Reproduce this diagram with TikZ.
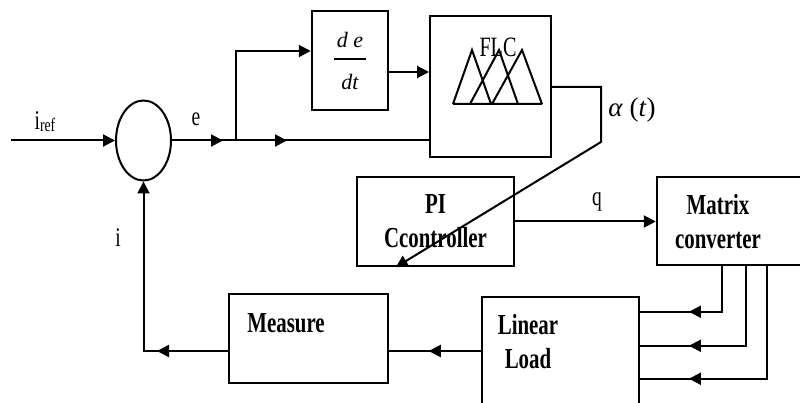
\documentclass[tikz,border=0pt]{standalone}
\usepackage{fontspec}
\setmainfont[FakeStretch=0.72]{Liberation Serif}
\newfontfamily\plainfont{Liberation Serif}
\usetikzlibrary{arrows.meta,shapes.geometric,decorations.markings}

\begin{document}
\begin{tikzpicture}[x=1pt, y=-1pt, >={Triangle[length=12pt,width=12pt]},
    conn/.style={line width=2pt},
    tipat/.style={postaction={decorate}, decoration={markings, mark=at position #1 with {\arrow{>}}}},
    blk/.style={draw, line width=2.5pt, inner sep=0pt},
    lbl/.style={font=\fontsize{27}{30}\selectfont, inner sep=0pt},
    blktxt/.style={font=\fontsize{29}{34}\selectfont\bfseries, align=center, inner sep=0pt}]
\useasboundingbox (0,0) rectangle (800,403);
\clip (0,0) rectangle (800,403);
\node[blk, ellipse, minimum width=55pt, minimum height=80pt, line width=2pt] (sum) at (143.5,140.5) {};
\node[blk, minimum width=76pt, minimum height=99pt, align=center,
      font=\plainfont\itshape\fontsize{22}{22}\selectfont] (deriv) at (350,60.5)
      {d e\\[-9pt]\rule{32pt}{2pt}\\[7pt]dt};
\node[blk, minimum width=121pt, minimum height=141pt, line width=2pt] (flc) at (490.5,87) {};
\node[blk, blktxt, minimum width=157pt, minimum height=89pt] (pi) at (435.5,221.5) {PI\\Ccontroller};
\node[blk, minimum width=170pt, minimum height=88pt] (matrix) at (742,221) {};
\node[blk, minimum width=157pt, minimum height=150pt] (load) at (560.5,372) {};
\node[blk, minimum width=159pt, minimum height=89pt, line width=2pt] (measure) at (308.5,338.5) {};
\node[blktxt] (mtext) at (718,222) {Matrix\\converter};
\node[blktxt] (ltext) at (528,342) {Linear\\Load};
\node[blktxt] (mstext) at (286,323.5) {Measure};
\node[lbl] (iref) at (45,122) {i{\fontsize{19}{19}\selectfont\raisebox{-2pt}{ref}}};
\node[lbl] (elbl) at (196,119) {e};
\node[lbl] (ilbl) at (118,238) {i};
\node[lbl] (qlbl) at (597,202) {q};
\node[lbl, font=\fontsize{28}{30}\selectfont] (flclbl) at (498,47) {FLC};
\node[lbl, font=\plainfont\fontsize{27}{30}\selectfont] (alpha) at (632,110) {\textit{α} (\textit{t})};
\draw[line width=2pt] (453,104) -- (472,50) -- (491,104) (470,104) -- (499,50) -- (518,104)
    (492,104) -- (522,50) -- (542,104) (453,104) -- (542,104);
\coordinate (in) at (11,140.5);
\coordinate (branch) at (236,140.5);
\coordinate (acorner) at (601,142);
\coordinate (dout) at ([yshift=-11.5pt]deriv.east);
\coordinate (mout) at ([yshift=-12.5pt]measure.east);
\draw[conn, ->] (in) -- (sum);
\draw[conn, tipat=51pt] (sum) -- (branch);
\draw[conn, tipat=51pt] (branch) -- (branch -| flc.west);
\draw[conn, ->] (branch) |- ([yshift=9.5pt]deriv.west);
\draw[conn, ->] (dout) -- (dout -| flc.west);
\draw[conn, ->] (flc.east) -| (acorner) -- ([xshift=40pt]pi.south west);
\draw[conn, ->] (pi.east) -- (pi.east -| matrix.west);
\foreach \dx/\dy/\d in {66/16/78.3pt, 90/50/136.3pt, 111/83/190.3pt}
    \draw[conn, tipat=\d] ([xshift=\dx pt]matrix.south west) |- ([yshift=-\dy pt]load.north east);
\draw[conn, tipat=52pt] (mout -| load.west) -- (mout);
\draw[conn, ->, tipat=71pt] ([yshift=-12.5pt]measure.west) -| (sum.south);
\end{tikzpicture}
\end{document}
